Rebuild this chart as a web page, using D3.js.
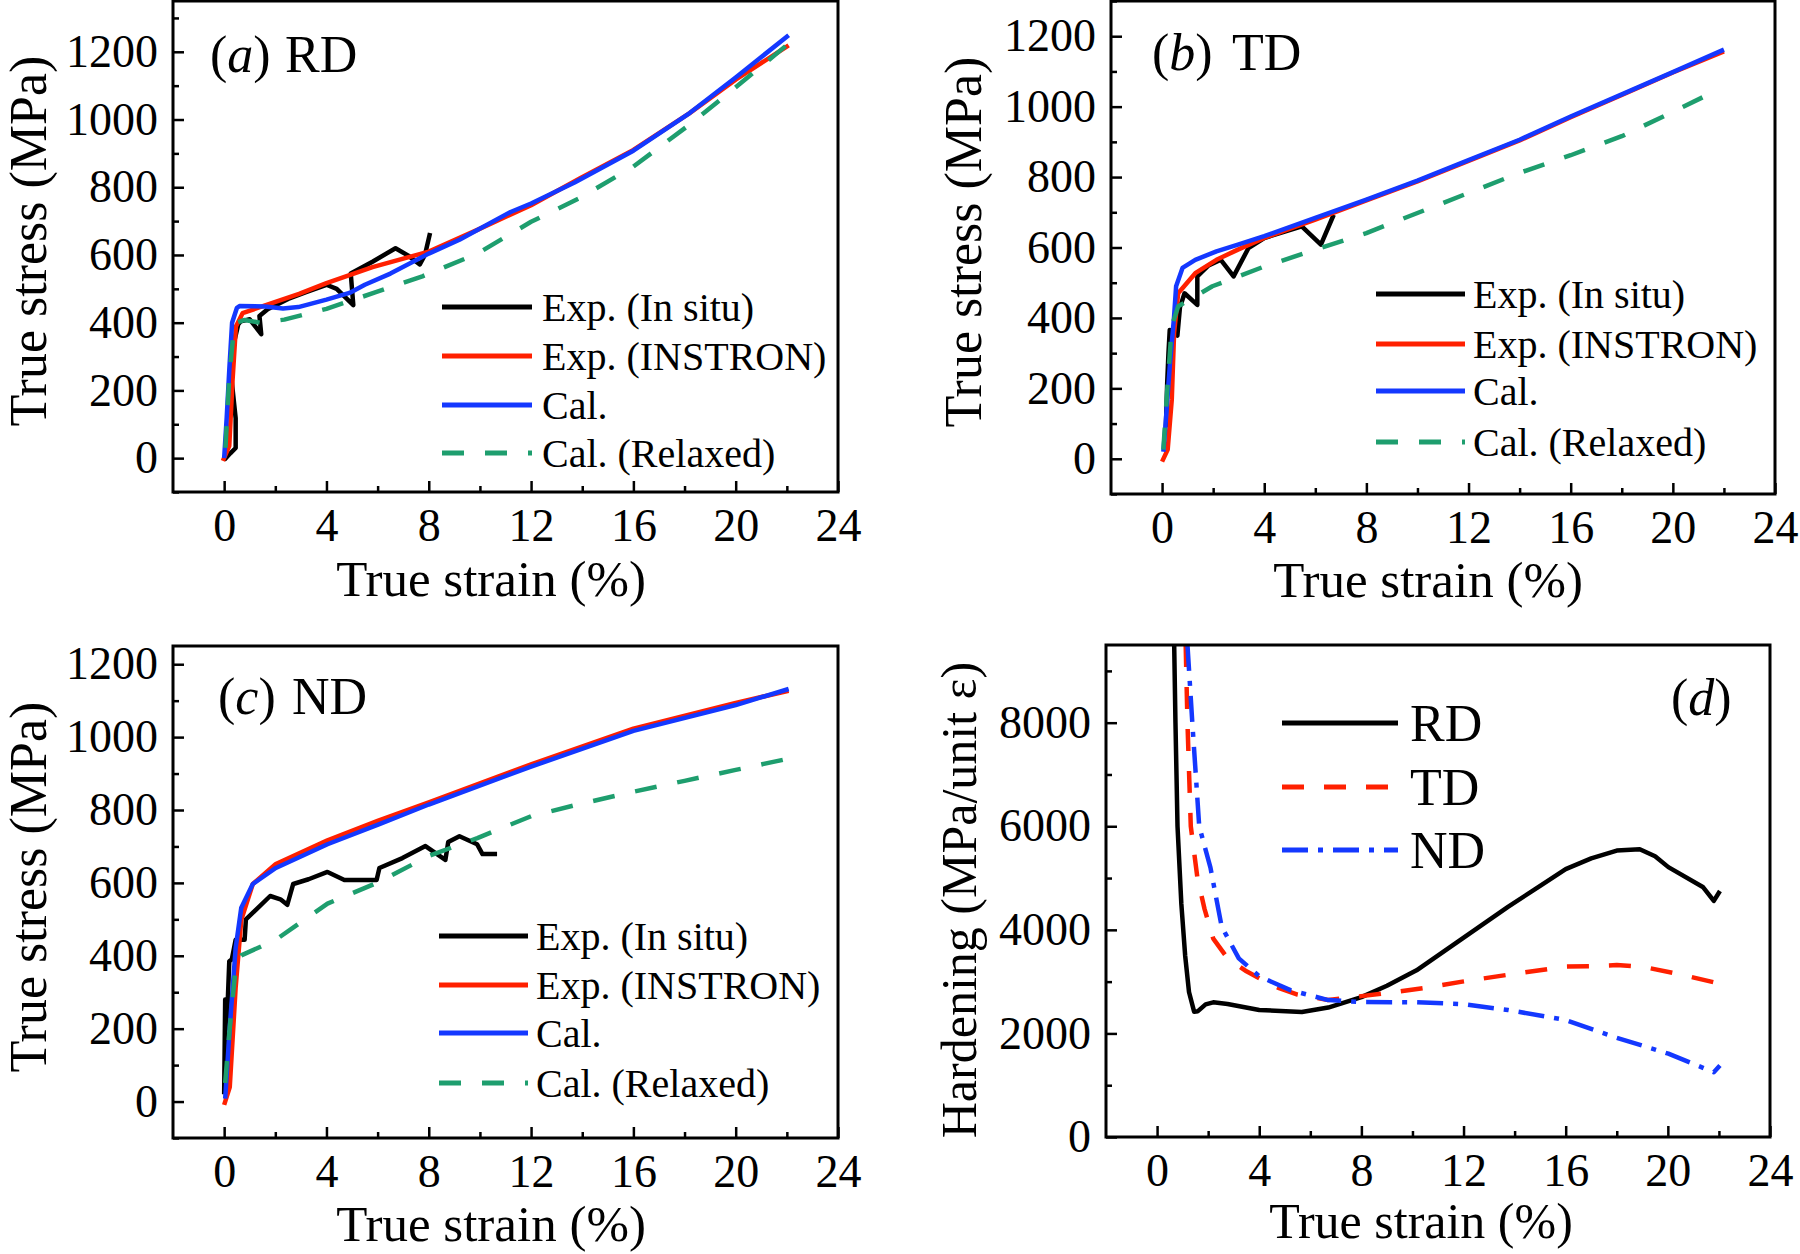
<!DOCTYPE html>
<html>
<head>
<meta charset="utf-8">
<script src="https://cdn.jsdelivr.net/npm/d3@7"></script>
<style>
  html, body { margin: 0; padding: 0; background: #fff; }
  svg { display: block; font-family: "Liberation Serif", "Times New Roman", serif; }
</style>
</head>
<body>
<svg id="chart" width="1800" height="1254"></svg>
<script>
// ---- tick values ----
const strainTicks = [0, 4, 8, 12, 16, 20, 24];
const strainMinor = [2, 6, 10, 14, 18, 22];
const stressTicks = [0, 200, 400, 600, 800, 1000, 1200];
const stressMinor = [-100, 100, 300, 500, 700, 900, 1100, 1300];
const hardTicks = [0, 2000, 4000, 6000, 8000];
const hardMinor = [1000, 3000, 5000, 7000, 9000];

// ---- legend labels ----
const seriesLabels = ["Exp. (In situ)", "Exp. (INSTRON)", "Cal.", "Cal. (Relaxed)"];
const dirLabels = ["RD", "TD", "ND"];

// ---- (a) RD: [true strain %, true stress MPa] ----
const rdInSitu = [[0,-5],[0.25,15],[0.45,30],[0.45,118],[0.25,260],[0.35,330],[0.55,395],[0.65,404],[1.0,410],[1.45,366],[1.38,420],[1.7,440],[2.5,470],[3.2,490],[4.0,512],[4.4,500],[5.05,452],[4.95,545],[5.8,580],[6.7,620],[7.2,598],[7.65,572],[7.85,600],[8.05,665]];
const rdInstron = [[-0.05,-8],[0.2,36],[0.33,232],[0.46,389],[0.72,428],[1.63,452],[2.93,485],[4,517],[5.8,564],[8,610],[9.9,674],[12,747],[13.9,826],[16,910],[18.2,1019],[20,1118],[22.07,1219]];
const rdCal = [[0,0],[0.1,120],[0.2,260],[0.31,400],[0.5,444],[0.6,449],[1.6,448],[2.3,442],[2.9,446],[4.0,468],[4.9,488],[5.5,512],[6.5,545],[8,604],[9.2,645],[11.2,727],[12,752],[13.7,814],[16,908],[18.2,1019],[20,1124],[22.07,1249]];
const rdRelaxed = [[0.05,30],[0.2,240],[0.4,398],[0.8,408],[1.4,400],[2.35,409],[4,441],[5.93,490],[7.75,537],[9.9,604],[12,698],[13.9,768],[16,861],[18.2,985],[20,1095],[22,1220]];

// ---- (b) TD ----
const tdInSitu = [[0.15,90],[0.2,215],[0.25,300],[0.3,366],[0.45,360],[0.6,350],[0.7,430],[0.88,470],[1.38,437],[1.38,518],[1.8,548],[2.3,565],[2.8,518],[3.38,598],[4,627],[5.47,660],[6.22,608],[6.72,693]];
const tdInstron = [[0,-8],[0.22,26],[0.38,168],[0.47,357],[0.63,470],[1.3,527],[2.13,565],[2.97,594],[4,627],[6,679],[8,734],[10,788],[12,846],[14,904],[16,970],[18,1033],[20,1097],[22,1157]];
const tdCal = [[0.05,20],[0.13,92],[0.3,262],[0.47,404],[0.55,490],[0.8,542],[1.3,565],[2.13,589],[2.97,608],[4,632],[6,684],[8,736],[10,790],[12,848],[14,906],[16,972],[18,1035],[20,1098],[22,1162]];
const tdRelaxed = [[0.05,26],[0.22,215],[0.38,376],[0.63,433],[1.97,490],[4,546],[6,594],[8,641],[10,698],[12,755],[14,812],[16,862],[18,916],[20,985],[21.6,1042]];

// ---- (c) ND ----
const ndInSitu = [[0,20],[0.04,280],[0.1,200],[0.2,385],[0.3,390],[0.45,444],[0.8,444],[0.85,500],[1.3,530],[1.8,564],[2.2,555],[2.47,540],[2.7,597],[3.3,610],[4.04,630],[4.7,608],[5.96,608],[6.07,641],[6.97,668],[7.87,701],[8.65,663],[8.76,712],[9.2,728],[9.89,706],[10.1,679],[10.67,679]];
const ndInstron = [[0,-9],[0.22,40],[0.45,313],[0.67,499],[1.12,597],[2.02,652],[4.04,717],[6,770],[8,821],[12,925],[16,1023],[20,1094],[22.07,1127]];
const ndCal = [[0.04,8],[0.22,204],[0.45,422],[0.67,532],[1.12,597],[2.02,641],[4.04,706],[6.07,761],[8,815],[12,919],[16,1017],[20,1088],[22.07,1132]];
const ndRelaxed = [[0.04,51],[0.22,204],[0.45,368],[0.67,401],[2.02,444],[4.04,543],[6.07,603],[8,674],[9.9,723],[12,783],[14,818],[16,850],[18,880],[20,910],[22.07,941]];

// ---- (d) hardening rate: [true strain %, MPa/unit strain] ----
const rdHard = [[0.67,9500],[0.72,8000],[0.8,6000],[0.95,4500],[1.1,3500],[1.25,2800],[1.45,2420],[1.6,2430],[1.9,2560],[2.2,2600],[2.76,2567],[4,2452],[5.67,2414],[6.7,2500],[8,2700],[9,2920],[10.16,3218],[11.95,3831],[13.74,4444],[15,4850],[16,5172],[17,5380],[18,5530],[18.9,5556],[19.5,5420],[20.02,5211],[21.37,4828],[21.8,4559],[22.04,4751]];
const tdHard = [[1.12,9500],[1.19,8000],[1.32,6000],[1.58,5000],[1.86,4400],[2.2,3830],[2.76,3450],[3.5,3200],[4.01,3065],[4.78,2873],[5.5,2750],[6.7,2644],[8,2720],[9.26,2797],[10.5,2880],[11.95,3000],[13.97,3150],[15.99,3290],[17,3300],[18,3320],[19.1,3280],[20.47,3142],[22.04,2960]];
const ndHard = [[1.19,9500],[1.38,8000],[1.65,6000],[2.09,5200],[2.53,4060],[3.2,3450],[4.01,3100],[5.22,2835],[6.7,2644],[8,2605],[10.16,2600],[11.95,2567],[13.74,2452],[15.99,2261],[18,1916],[20.02,1609],[21.8,1250],[22.04,1379]];

// ---- styles ----
const BLACK = "#000000", RED = "#ff2000", BLUE = "#1438ff", GREEN = "#1e9e6e";
const stressStyles = [
  { color: BLACK, dash: null },
  { color: RED, dash: null },
  { color: BLUE, dash: null },
  { color: GREEN, dash: "22,21" },
];
const hardStyles = [
  { color: BLACK, dash: null },
  { color: RED, dash: "22,20" },
  { color: BLUE, dash: "26,10,5,10" },
];

const svg = d3.select("#chart");
const defs = svg.append("defs");

const panels = [
  { id: "a", letter: "a", dir: "RD", box: [173, 838, 1, 492], yDomain: [-100, 1350],
    series: [rdInSitu, rdInstron, rdCal, rdRelaxed], styles: stressStyles, labels: seriesLabels,
    yTicks: stressTicks, yMinor: stressMinor, yTitle: "True stress (MPa)",
    yTitlePos: [46, 241, 52], xTitlePos: [491, 596, 51],
    tag: [210, 285, 72], legend: { x1: 442, x2: 532, tx: 542, rows: [307, 356, 405, 453], size: 40 } },
  { id: "b", letter: "b", dir: "TD", box: [1111, 1775, 1, 494], yDomain: [-100, 1300],
    series: [tdInSitu, tdInstron, tdCal, tdRelaxed], styles: stressStyles, labels: seriesLabels,
    yTicks: stressTicks, yMinor: stressMinor, yTitle: "True stress (MPa)",
    yTitlePos: [981, 242, 52], xTitlePos: [1428, 597, 51],
    tag: [1152, 1232, 70], legend: { x1: 1376, x2: 1465, tx: 1473, rows: [294, 344, 391, 442], size: 40 } },
  { id: "c", letter: "c", dir: "ND", box: [173, 838, 646, 1138], yDomain: [-100, 1250],
    series: [ndInSitu, ndInstron, ndCal, ndRelaxed], styles: stressStyles, labels: seriesLabels,
    yTicks: stressTicks, yMinor: stressMinor.slice(0, 7), yTitle: "True stress (MPa)",
    yTitlePos: [46, 887, 52], xTitlePos: [491, 1241, 51],
    tag: [218, 292, 714], legend: { x1: 439, x2: 528, tx: 536, rows: [936, 985, 1033, 1083], size: 40 } },
  { id: "d", letter: "d", dir: null, box: [1106, 1770, 645, 1137], yDomain: [0, 9500],
    series: [rdHard, tdHard, ndHard], styles: hardStyles, labels: dirLabels,
    yTicks: hardTicks, yMinor: hardMinor, yTitle: "Hardening (MPa/unit \u03b5)",
    yTitlePos: [976, 900, 50], xTitlePos: [1421, 1238, 50],
    tag: [1671, null, 715], legend: { x1: 1282, x2: 1398, tx: 1410, rows: [723, 787, 850], size: 52 } },
];

const fmt = d3.format("d");

function styleAxis(sel, withText) {
  sel.select(".domain").remove();
  sel.selectAll(".tick line").attr("stroke", "#000").attr("stroke-width", 2.5);
  if (withText) {
    sel.selectAll(".tick text").attr("fill", "#000").attr("font-size", 46)
      .attr("font-family", "Liberation Serif, Times New Roman, serif");
  }
}

function drawPanel(p) {
  const [left, right, top, bottom] = p.box;
  const x = d3.scaleLinear().domain([-2, 24]).range([left, right]);
  const y = d3.scaleLinear().domain(p.yDomain).range([bottom, top]);
  const g = svg.append("g").attr("id", "panel-" + p.id);

  defs.append("clipPath").attr("id", "clip-" + p.id)
    .append("rect").attr("x", left).attr("y", top)
    .attr("width", right - left).attr("height", bottom - top);

  // ticks point inward
  g.append("g").attr("transform", `translate(0,${bottom})`)
    .call(d3.axisBottom(x).tickValues(strainMinor).tickSize(-6).tickSizeOuter(0).tickFormat(""))
    .call(s => styleAxis(s, false));
  g.append("g").attr("transform", `translate(0,${bottom})`)
    .call(d3.axisBottom(x).tickValues(strainTicks).tickSize(-11).tickSizeOuter(0).tickPadding(16).tickFormat(fmt))
    .call(s => styleAxis(s, true));
  g.append("g").attr("transform", `translate(${left},0)`)
    .call(d3.axisLeft(y).tickValues(p.yMinor).tickSize(-6).tickSizeOuter(0).tickFormat(""))
    .call(s => styleAxis(s, false));
  g.append("g").attr("transform", `translate(${left},0)`)
    .call(d3.axisLeft(y).tickValues(p.yTicks).tickSize(-11).tickSizeOuter(0).tickPadding(15).tickFormat(fmt))
    .call(s => styleAxis(s, true));

  const line = d3.line().x(d => x(d[0])).y(d => y(d[1]));
  const curves = g.append("g").attr("clip-path", `url(#clip-${p.id})`);
  p.series.forEach((data, i) => {
    curves.append("path").datum(data)
      .attr("d", line)
      .attr("fill", "none")
      .attr("stroke", p.styles[i].color)
      .attr("stroke-width", 4.5)
      .attr("stroke-linejoin", "round")
      .attr("stroke-dasharray", p.styles[i].dash);
  });

  g.append("rect")
    .attr("x", left).attr("y", top)
    .attr("width", right - left).attr("height", bottom - top)
    .attr("fill", "none").attr("stroke", "#000").attr("stroke-width", 3);

  // legend
  const lg = g.append("g");
  p.labels.forEach((label, i) => {
    const ry = p.legend.rows[i];
    lg.append("line")
      .attr("x1", p.legend.x1).attr("x2", p.legend.x2)
      .attr("y1", ry).attr("y2", ry)
      .attr("stroke", p.styles[i].color).attr("stroke-width", 5)
      .attr("stroke-dasharray", p.styles[i].dash);
    lg.append("text")
      .attr("x", p.legend.tx).attr("y", ry).attr("dy", "0.35em")
      .attr("font-size", p.legend.size)
      .text(label);
  });

  // panel tag
  const tag = g.append("text").attr("x", p.tag[0]).attr("y", p.tag[2]).attr("font-size", 52);
  tag.append("tspan").text("(");
  tag.append("tspan").attr("font-style", "italic").text(p.letter);
  tag.append("tspan").text(")");
  if (p.dir) {
    g.append("text").attr("x", p.tag[1]).attr("y", p.tag[2]).attr("font-size", 52).text(p.dir);
  }

  // axis titles
  g.append("text")
    .attr("transform", `translate(${p.yTitlePos[0]},${p.yTitlePos[1]}) rotate(-90)`)
    .attr("text-anchor", "middle").attr("font-size", p.yTitlePos[2])
    .text(p.yTitle);
  g.append("text")
    .attr("x", p.xTitlePos[0]).attr("y", p.xTitlePos[1])
    .attr("text-anchor", "middle").attr("font-size", p.xTitlePos[2])
    .text("True strain (%)");
}

panels.forEach(drawPanel);
</script>
</body>
</html>
